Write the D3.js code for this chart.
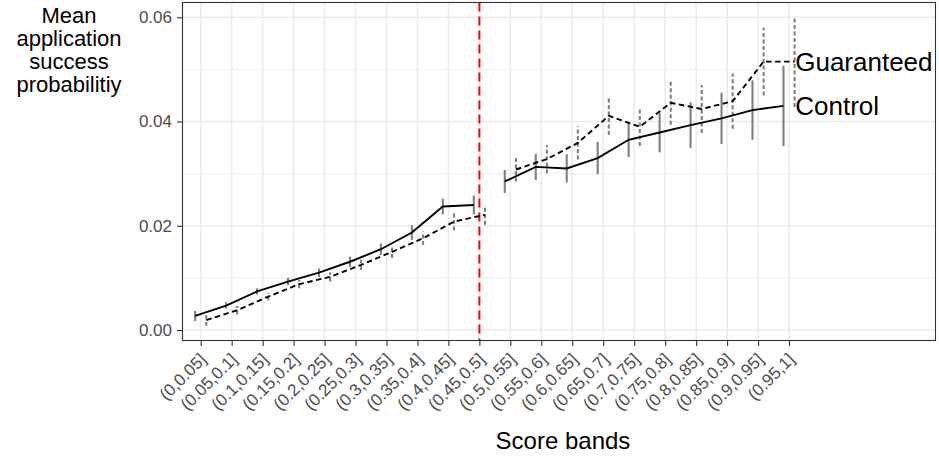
<!DOCTYPE html>
<html>
<head>
<meta charset="utf-8">
<script src="https://cdn.jsdelivr.net/npm/d3@7"></script>
<style>
  html, body { margin: 0; padding: 0; background: #fff; }
  svg { display: block; font-family: "Liberation Sans", Arial, Helvetica, sans-serif; }
</style>
</head>
<body>
<svg id="chart" width="939" height="458"></svg>
<script>
const bands = ["(0,0.05]", "(0.05,0.1]", "(0.1,0.15]", "(0.15,0.2]", "(0.2,0.25]",
  "(0.25,0.3]", "(0.3,0.35]", "(0.35,0.4]", "(0.4,0.45]", "(0.45,0.5]",
  "(0.5,0.55]", "(0.55,0.6]", "(0.6,0.65]", "(0.65,0.7]", "(0.7,0.75]",
  "(0.75,0.8]", "(0.8,0.85]", "(0.85,0.9]", "(0.9,0.95]", "(0.95,1]"];
const controlMean = [0.0027, 0.0047, 0.0074, 0.0093, 0.0110, 0.0131, 0.0155, 0.0187, 0.0237, 0.0240,
  0.0285, 0.0313, 0.0310, 0.0330, 0.0365, 0.0379, 0.0393, 0.0406, 0.0422, 0.0430];
const controlErr = [0.0010, 0.0006, 0.0006, 0.0007, 0.0008, 0.0010, 0.0011, 0.0014, 0.0015, 0.0018,
  0.0022, 0.0025, 0.0027, 0.0031, 0.0033, 0.0038, 0.0044, 0.0049, 0.0057, 0.0077];
const guaranteedMean = [0.0019, 0.0038, 0.0064, 0.0088, 0.0102, 0.0125, 0.0150, 0.0176, 0.0208, 0.0221,
  0.0308, 0.0328, 0.0359, 0.0411, 0.0390, 0.0436, 0.0424, 0.0439, 0.0515, 0.0515];
const guaranteedErr = [0.0011, 0.0008, 0.0007, 0.0008, 0.0009, 0.0010, 0.0012, 0.0013, 0.0017, 0.0019,
  0.0023, 0.0027, 0.0032, 0.0037, 0.0037, 0.0042, 0.0046, 0.0053, 0.0065, 0.0087];
const seriesNames = ["Control", "Guaranteed"];
const segments = [[0, 9], [10, 19]];
const yTicks = [0, 0.02, 0.04, 0.06];
const yMinorTicks = [0.01, 0.03, 0.05];
const thresholdIndex = 9;

const series = [
  { name: seriesNames[0], mean: controlMean, err: controlErr, dodge: -0.18, dash: null, errDash: null },
  { name: seriesNames[1], mean: guaranteedMean, err: guaranteedErr, dodge: 0.18, dash: "5.5,3.5", errDash: "4,2.5" }
];

const panel = { left: 182.5, right: 935.5, top: 2.5, bottom: 340.5 };
const svg = d3.select("#chart");

const x = d3.scaleLinear().domain([-0.588, 23.73]).range([panel.left, panel.right]);
const y = d3.scaleLinear().domain([-0.00201, 0.06284]).range([panel.bottom, panel.top]);

// grid
const grid = svg.append("g");
grid.selectAll(".ymin").data(yMinorTicks).enter().append("line")
  .attr("x1", panel.left).attr("x2", panel.right)
  .attr("y1", d => y(d)).attr("y2", d => y(d))
  .attr("stroke", "#EBEBEB").attr("stroke-width", 0.8);
grid.selectAll(".ymaj").data(yTicks).enter().append("line")
  .attr("x1", panel.left).attr("x2", panel.right)
  .attr("y1", d => y(d)).attr("y2", d => y(d))
  .attr("stroke", "#EBEBEB").attr("stroke-width", 1.6);
grid.selectAll(".xmaj").data(d3.range(bands.length)).enter().append("line")
  .attr("x1", d => x(d)).attr("x2", d => x(d))
  .attr("y1", panel.top).attr("y2", panel.bottom)
  .attr("stroke", "#EBEBEB").attr("stroke-width", 1.6);

// threshold
svg.append("line")
  .attr("x1", x(thresholdIndex)).attr("x2", x(thresholdIndex))
  .attr("y1", panel.top).attr("y2", panel.bottom)
  .attr("stroke", "#FF0000").attr("stroke-width", 2).attr("stroke-dasharray", "9,5");

// error bars
series.forEach(s => {
  svg.append("g").selectAll("line").data(d3.range(bands.length)).enter().append("line")
    .attr("x1", i => x(i + s.dodge)).attr("x2", i => x(i + s.dodge))
    .attr("y1", i => y(s.mean[i] - s.err[i])).attr("y2", i => y(s.mean[i] + s.err[i]))
    .attr("stroke", "#7F7F7F").attr("stroke-width", 2.1)
    .attr("stroke-dasharray", s.errDash);
});

// lines
const line = d3.line().x(d => x(d.i)).y(d => y(d.v));
series.forEach(s => {
  segments.forEach(([a, b]) => {
    const pts = d3.range(a, b + 1).map(i => ({ i: i + s.dodge, v: s.mean[i] }));
    svg.append("path").attr("d", line(pts))
      .attr("fill", "none").attr("stroke", "#000").attr("stroke-width", 1.9)
      .attr("stroke-dasharray", s.dash);
  });
  svg.append("text")
    .attr("x", x(bands.length - 1 + 0.2))
    .attr("y", y(s.mean[bands.length - 1]))
    .attr("dy", "0.36em")
    .attr("font-size", 26).attr("fill", "#000")
    .text(s.name);
});

// panel border
svg.append("rect")
  .attr("x", panel.left).attr("y", panel.top)
  .attr("width", panel.right - panel.left).attr("height", panel.bottom - panel.top)
  .attr("fill", "none").attr("stroke", "#333333").attr("stroke-width", 1.1);

// y axis
const yAxis = svg.append("g").attr("transform", `translate(${panel.left},0)`)
  .call(d3.axisLeft(y).tickValues(yTicks).tickFormat(d3.format(".2f")).tickSize(5.5).tickPadding(5));
yAxis.select(".domain").remove();
yAxis.selectAll(".tick line").attr("stroke", "#333333").attr("stroke-width", 1.1);
yAxis.selectAll(".tick text").attr("fill", "#4D4D4D").attr("font-size", 17)
  .attr("font-family", "Liberation Sans, Arial, sans-serif");

// x axis
const xAxis = svg.append("g").attr("transform", `translate(0,${panel.bottom})`)
  .call(d3.axisBottom(x).tickValues(d3.range(bands.length)).tickFormat(i => bands[i]).tickSize(5.5));
xAxis.select(".domain").remove();
xAxis.selectAll(".tick line").attr("stroke", "#333333").attr("stroke-width", 1.1);
xAxis.selectAll(".tick text")
  .attr("fill", "#4D4D4D").attr("font-size", 17)
  .attr("font-family", "Liberation Sans, Arial, sans-serif")
  .attr("text-anchor", "end")
  .attr("x", 0).attr("y", 0).attr("dy", 0)
  .attr("transform", "translate(6,20) rotate(-45)");

// axis titles
svg.append("text")
  .attr("x", (panel.left + panel.right) / 2 + 4).attr("y", 449)
  .attr("text-anchor", "middle").attr("font-size", 24).attr("fill", "#000")
  .text("Score bands");

const yTitle = ["Mean", "application", "success", "probabilitiy"];
svg.append("text")
  .attr("text-anchor", "middle").attr("font-size", 22).attr("fill", "#000")
  .selectAll("tspan").data(yTitle).enter().append("tspan")
  .attr("x", 69).attr("y", (d, i) => 22.5 + i * 23)
  .text(d => d);
</script>
</body>
</html>
